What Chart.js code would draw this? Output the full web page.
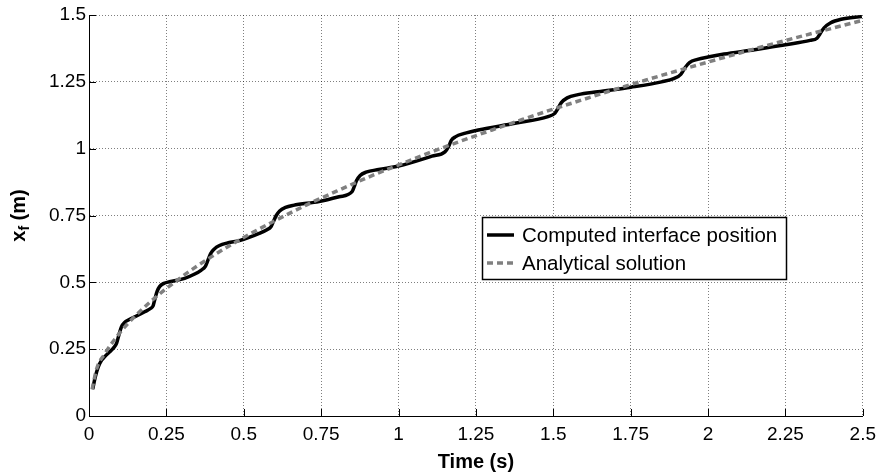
<!DOCTYPE html>
<html>
<head>
<meta charset="utf-8">
<script src="https://cdn.jsdelivr.net/npm/chart.js@4.4.0/dist/chart.umd.min.js"></script>
<style>
  html, body { margin: 0; padding: 0; background: #fff; }
</style>
</head>
<body>
<canvas id="chart" width="883" height="474"></canvas>
<script>
// ------------------ DATA ------------------
const compTime = [0.012, 0.02, 0.03, 0.04, 0.051, 0.065, 0.078, 0.089, 0.097, 0.105, 0.115, 0.127,
    0.15, 0.18, 0.2, 0.207, 0.213, 0.22, 0.228, 0.242, 0.26, 0.309, 0.34, 0.363, 0.376, 0.384,
    0.393, 0.405, 0.42, 0.45, 0.486, 0.55, 0.575, 0.588, 0.596, 0.605, 0.616, 0.635, 0.66, 0.743,
    0.808, 0.85, 0.857, 0.864, 0.876, 0.895, 0.936, 1.0, 1.108, 1.15, 1.162, 1.17, 1.185, 1.21,
    1.258, 1.376, 1.483, 1.505, 1.515, 1.526, 1.545, 1.58, 1.644, 1.751, 1.85, 1.891, 1.912,
    1.925, 1.94, 1.966, 2.0, 2.052, 2.15, 2.245, 2.33, 2.352, 2.362, 2.375, 2.395, 2.43, 2.497];
const compPos = [0.100, 0.145, 0.184, 0.207, 0.222, 0.238, 0.253, 0.272, 0.305, 0.334, 0.350, 0.359,
    0.372, 0.390, 0.403, 0.412, 0.438, 0.466, 0.484, 0.496, 0.502, 0.515, 0.530, 0.546, 0.560, 0.582,
    0.608, 0.625, 0.637, 0.648, 0.656, 0.683, 0.697, 0.708, 0.728, 0.750, 0.767, 0.780, 0.788, 0.802,
    0.820, 0.839, 0.858, 0.880, 0.900, 0.912, 0.922, 0.935, 0.972, 0.988, 1.008, 1.030, 1.045, 1.056,
    1.070, 1.095, 1.120, 1.132, 1.150, 1.172, 1.190, 1.202, 1.213, 1.230, 1.250, 1.263, 1.278,
    1.302, 1.322, 1.334, 1.343, 1.354, 1.370, 1.388, 1.405, 1.413, 1.430, 1.452, 1.470, 1.484, 1.494];

const anaTime = [0.01, 0.025, 0.05, 0.1, 0.15, 0.2, 0.3, 0.4, 0.5, 0.6, 0.7, 0.8, 0.9, 1.0, 1.1, 1.2,
    1.3, 1.4, 1.5, 1.6, 1.7, 1.8, 1.9, 2.0, 2.1, 2.2, 2.3, 2.4, 2.5];
const anaPos = [0.100, 0.178, 0.231, 0.312, 0.375, 0.429, 0.521, 0.599, 0.668, 0.730, 0.788, 0.841,
    0.892, 0.939, 0.985, 1.028, 1.069, 1.109, 1.148, 1.185, 1.222, 1.257, 1.291, 1.324, 1.357, 1.389,
    1.420, 1.450, 1.480];

const xTickVals = [0, 0.25, 0.5, 0.75, 1, 1.25, 1.5, 1.75, 2, 2.25, 2.5];
const yTickVals = [0, 0.25, 0.5, 0.75, 1, 1.25, 1.5];

const seriesLabels = ["Computed interface position", "Analytical solution"];

// ------------------ STYLE ------------------
const FONT = "'Liberation Sans', Arial, Helvetica, sans-serif";
const GRID_COLOR = "rgba(0,0,0,0.5)";

// ------------------ PLUGINS ------------------
// MATLAB style: tick marks pointing inside the axes
const innerTicks = {
    id: "innerTicks",
    afterDatasetsDraw(chart) {
        const { ctx, chartArea, scales } = chart;
        ctx.save();
        ctx.strokeStyle = "#000";
        ctx.lineWidth = 1;
        ctx.beginPath();
        scales.x.ticks.forEach(t => {
            const px = Math.round(scales.x.getPixelForValue(t.value)) + 0.5;
            ctx.moveTo(px, chartArea.bottom);
            ctx.lineTo(px, chartArea.bottom - 7);
        });
        scales.y.ticks.forEach(t => {
            const py = Math.round(scales.y.getPixelForValue(t.value)) + 0.5;
            ctx.moveTo(chartArea.left, py);
            ctx.lineTo(chartArea.left + 7, py);
        });
        ctx.stroke();
        ctx.restore();
    }
};

// axis titles (the y one has a subscript, so it is drawn by hand)
const axisTitles = {
    id: "axisTitles",
    afterDraw(chart) {
        const { ctx, chartArea } = chart;
        ctx.save();
        ctx.fillStyle = "#000";
        ctx.textBaseline = "middle";

        // x title
        ctx.font = "bold 20px " + FONT;
        ctx.textAlign = "center";
        ctx.fillText("Time (s)", (chartArea.left + chartArea.right) / 2, 462);

        // y title: x_f (m)
        const big = "bold 20px " + FONT;
        const small = "bold 14px " + FONT;
        ctx.font = big;
        const w1 = ctx.measureText("x").width;
        const w3 = ctx.measureText(" (m)").width;
        ctx.font = small;
        const w2 = ctx.measureText("f").width;
        const total = w1 + w2 + w3;
        ctx.translate(19, (chartArea.top + chartArea.bottom) / 2);
        ctx.rotate(-Math.PI / 2);
        ctx.textAlign = "left";
        let x = -total / 2;
        ctx.font = big;
        ctx.fillText("x", x, 0);
        x += w1;
        ctx.font = small;
        ctx.fillText("f", x, 6);
        x += w2;
        ctx.font = big;
        ctx.fillText(" (m)", x, 0);
        ctx.restore();
    }
};

// boxed legend inside the plot
const boxLegend = {
    id: "boxLegend",
    afterDraw(chart) {
        const { ctx } = chart;
        const bx = 482, by = 217, bw = 304, bh = 62;
        ctx.save();
        ctx.fillStyle = "#fff";
        ctx.fillRect(bx, by, bw, bh);
        ctx.strokeStyle = "#000";
        ctx.lineWidth = 1.5;
        ctx.strokeRect(bx + 0.5, by + 0.5, bw, bh);

        const rows = [235, 263];
        const styles = [
            { color: "#000", dash: [] },
            { color: "#808080", dash: [6, 4] }
        ];
        ctx.font = "20.5px " + FONT;
        ctx.textBaseline = "middle";
        ctx.textAlign = "left";
        seriesLabels.forEach((label, i) => {
            ctx.strokeStyle = styles[i].color;
            ctx.lineWidth = 3.5;
            ctx.setLineDash(styles[i].dash);
            ctx.beginPath();
            ctx.moveTo(487, rows[i]);
            ctx.lineTo(514, rows[i]);
            ctx.stroke();
            ctx.setLineDash([]);
            ctx.fillStyle = "#000";
            ctx.fillText(label, 522, rows[i] + 1);
        });
        ctx.restore();
    }
};

// ------------------ CHART ------------------
const toPoints = (xs, ys) => xs.map((x, i) => ({ x: x, y: ys[i] }));

new Chart(document.getElementById("chart"), {
    type: "line",
    data: {
        datasets: [
            {
                label: seriesLabels[0],
                data: toPoints(compTime, compPos),
                borderColor: "#000",
                borderWidth: 3.5,
                pointRadius: 0,
                cubicInterpolationMode: "monotone",
                fill: false,
                order: 2
            },
            {
                label: seriesLabels[1],
                data: toPoints(anaTime, anaPos),
                borderColor: "#808080",
                borderWidth: 3.5,
                borderDash: [6, 4],
                pointRadius: 0,
                cubicInterpolationMode: "monotone",
                fill: false,
                order: 1
            }
        ]
    },
    options: {
        responsive: false,
        animation: false,
        devicePixelRatio: 1,
        layout: { padding: { top: 15, right: 17, bottom: 0, left: 0 } },
        plugins: {
            legend: { display: false },
            tooltip: { enabled: false }
        },
        scales: {
            x: {
                type: "linear",
                position: "bottom",
                min: 0,
                max: 2.5,
                afterBuildTicks: s => { s.ticks = xTickVals.map(v => ({ value: v })); },
                afterFit: s => { s.height = 58; },
                ticks: {
                    color: "#000",
                    font: { family: FONT, size: 19 },
                    padding: 7,
                    maxRotation: 0,
                    autoSkip: false,
                    callback: v => String(v)
                },
                grid: { color: GRID_COLOR, lineWidth: 1, drawTicks: false },
                border: { display: true, color: "#000", width: 1, dash: [1, 2] }
            },
            y: {
                type: "linear",
                position: "left",
                min: 0,
                max: 1.5,
                afterBuildTicks: s => { s.ticks = yTickVals.map(v => ({ value: v })); },
                afterFit: s => { s.width = 89; },
                ticks: {
                    color: "#000",
                    font: { family: FONT, size: 19 },
                    padding: 3,
                    autoSkip: false,
                    callback: v => String(v)
                },
                grid: { color: GRID_COLOR, lineWidth: 1, drawTicks: false },
                border: { display: true, color: "#000", width: 1, dash: [1, 2] }
            }
        }
    },
    plugins: [innerTicks, axisTitles, boxLegend]
});
</script>
</body>
</html>
